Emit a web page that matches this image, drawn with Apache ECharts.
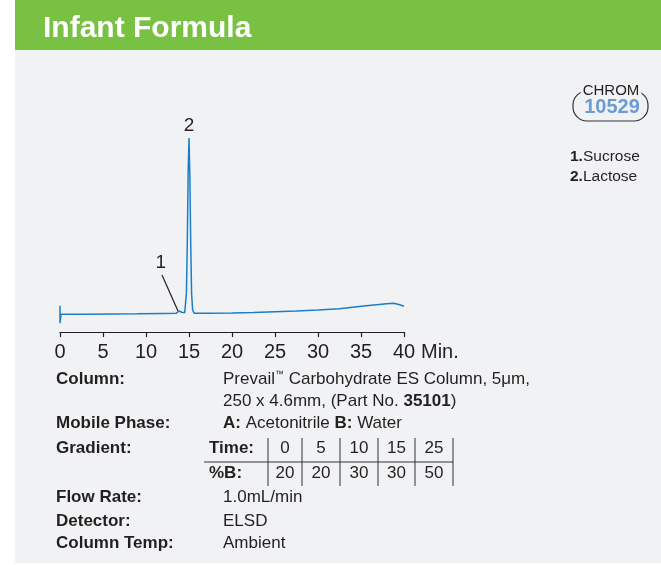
<!DOCTYPE html>
<html>
<head>
<meta charset="utf-8">
<script src="https://cdn.jsdelivr.net/npm/echarts@6/dist/echarts.min.js"></script>
<style>
  html, body { margin: 0; padding: 0; background: #fff; }
  #chart { width: 661px; height: 565px; }
</style>
</head>
<body>
<div id="chart"></div>
<script>
// retention time (min) and detector response
const retention = [0, 0, 0.12, 3, 6, 9, 12, 13.5, 13.7, 13.85, 14.0, 14.15, 14.3, 14.5, 14.6,
  14.7, 14.8, 14.9, 15.0, 15.1, 15.2, 15.3, 15.42, 15.6, 17, 20, 22.5, 25, 27.5, 30, 32.5,
  35.3, 36.8, 38, 38.8, 39.4, 40];
const signal = [4.9, -5, 0, 0.1, 0.2, 0.3, 0.5, 0.6, 0.8, 1.9, 2.0, 1.2, 0.8, 0.9, 1.5,
  12, 40, 80, 100, 78, 40, 12, 2.5, 0.7, 0.7, 0.8, 1.1, 1.5, 1.9, 2.5, 3.2,
  4.8, 5.5, 6.0, 6.3, 5.6, 4.6];

const peakNames = ['Sucrose', 'Lactose'];
const peakLabelPos = [[11.72, 29.1], [15.0, 100]];
const leader = [[11.86, 22.3], [13.72, 1.9]];

const gradTime = ['0', '5', '10', '15', '25'];
const gradB = ['20', '20', '30', '30', '50'];

const FF = "'Liberation Sans', Arial, Helvetica, sans-serif";
const INK = '#231f20';
const PANEL = '#f1f2f4';
const FS = 17;

const chart = echarts.init(document.getElementById('chart'));

function txt(x, y, text, opts) {
  opts = opts || {};
  return {
    type: 'text', x: x, y: y, z: 10,
    style: Object.assign({
      text: text, fill: INK, font: (opts.bold ? 'bold ' : '') + (opts.size || FS) + 'px ' + FF,
      textAlign: opts.align || 'left', textVerticalAlign: 'middle'
    }, opts.style || {})
  };
}

function richTxt(x, y, text, size) {
  return {type: 'text', x: x, y: y, z: 10, style: {
    text: text, font: size + 'px ' + FF, fill: INK, textVerticalAlign: 'middle',
    rich: {
      b: {fontWeight: 'bold', fontSize: size, fontFamily: FF, fill: INK},
      sup: {fontSize: 9, fontFamily: FF, fill: INK, verticalAlign: 'top', padding: [0, 0, 6, 0]}
    }}};
}

const rows = [
  ['Column:', 379], ['Mobile Phase:', 423], ['Gradient:', 448],
  ['Flow Rate:', 497], ['Detector:', 521], ['Column Temp:', 543]
];

const graphics = [
  {type: 'rect', z: -5, shape: {x: 15, y: 50, width: 646, height: 513}, style: {fill: PANEL}},
  {type: 'rect', z: -5, shape: {x: 15, y: 0, width: 646, height: 50}, style: {fill: '#79c143'}},
  txt(43, 29, 'Infant Formula', {bold: true, size: 30, style: {fill: '#fff'}}),
  txt(421, 352, 'Min.', {size: 20}),
  // badge
  {type: 'rect', z: 5, shape: {x: 573, y: 91, width: 75, height: 30, r: 14},
    style: {fill: 'none', stroke: '#333', lineWidth: 1.2}},
  {type: 'text', x: 611, y: 91, z: 10, style: {text: 'CHROM', fill: INK, font: '15px ' + FF,
    textAlign: 'center', textVerticalAlign: 'middle', backgroundColor: PANEL, padding: [0, 2]}},
  txt(612, 107, '10529', {bold: true, size: 20, align: 'center', style: {fill: '#6a9bd4'}}),
  richTxt(570, 157, '{b|1.}Sucrose', 15.5),
  richTxt(570, 177, '{b|2.}Lactose', 15.5),
  // conditions
  richTxt(223, 379, 'Prevail{sup|\u2122} Carbohydrate ES Column, 5\u03bcm,', FS),
  richTxt(223, 401, '250 x 4.6mm, (Part No. {b|35101})', FS),
  richTxt(223, 423, '{b|A:} Acetonitrile {b|B:} Water', FS),
  txt(223, 497, '1.0mL/min'),
  txt(223, 521, 'ELSD'),
  txt(223, 543, 'Ambient'),
  txt(209, 448, 'Time:', {bold: true}),
  txt(209, 473, '%B:', {bold: true}),
  {type: 'line', z: 5, shape: {x1: 204, y1: 462, x2: 453, y2: 462}, style: {stroke: '#333', lineWidth: 1}}
];
rows.forEach(r => graphics.push(txt(56, r[1], r[0], {bold: true})));

const cellEdges = [268, 302, 340, 378, 415, 453];
cellEdges.forEach(x => graphics.push({type: 'line', z: 5,
  shape: {x1: x, y1: 438, x2: x, y2: 486}, style: {stroke: '#333', lineWidth: 1}}));
gradTime.forEach((t, i) => {
  const cx = (cellEdges[i] + cellEdges[i + 1]) / 2;
  graphics.push(txt(cx, 448, t, {align: 'center'}));
  graphics.push(txt(cx, 473, gradB[i], {align: 'center'}));
});

chart.setOption({
  backgroundColor: '#fff',
  animation: false,
  grid: {left: 60, right: 257, top: 138, bottom: 233},
  xAxis: {
    type: 'value', min: 0, max: 40, interval: 5,
    axisLine: {onZero: false, lineStyle: {color: INK, width: 1.2}},
    axisTick: {length: 5, lineStyle: {color: INK, width: 1.2}},
    axisLabel: {fontSize: 20, color: INK, fontFamily: FF, margin: 10},
    splitLine: {show: false}
  },
  yAxis: {type: 'value', min: -10, max: 100, show: false},
  series: [{
    type: 'line',
    data: retention.map((t, i) => [t, signal[i]]),
    symbol: 'none',
    lineStyle: {color: '#1b7dc6', width: 1.5},
    markPoint: {
      symbol: 'circle', symbolSize: 0,
      label: {color: INK, fontSize: 19, fontFamily: FF},
      data: [
        {name: peakNames[0], coord: peakLabelPos[0], label: {position: 'inside', formatter: '1'}},
        {name: peakNames[1], coord: peakLabelPos[1], label: {position: 'top', distance: 3, formatter: '2'}}
      ]
    },
    markLine: {
      silent: true, symbol: ['none', 'none'],
      label: {show: false},
      lineStyle: {color: INK, width: 1.2, type: 'solid'},
      data: [[{coord: leader[0]}, {coord: leader[1]}]]
    }
  }],
  graphic: graphics
});
</script>
</body>
</html>
